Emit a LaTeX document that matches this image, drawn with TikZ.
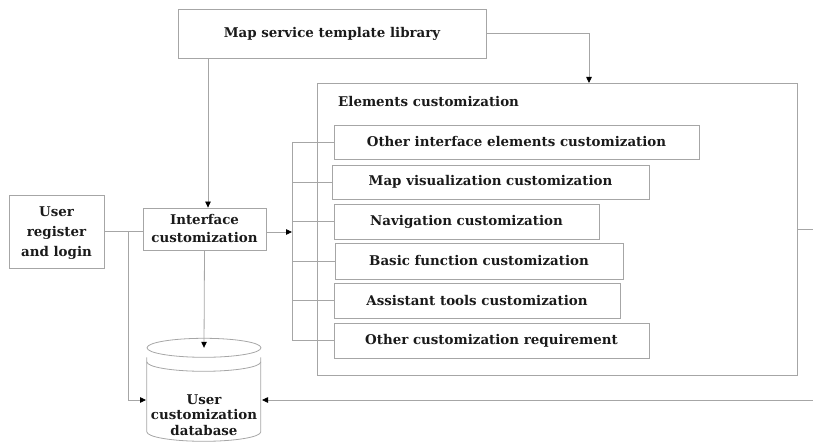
\documentclass[tikz,border=0pt]{standalone}
\usepackage{fontspec}
\setmainfont{DejaVu Serif}
\usetikzlibrary{arrows.meta,calc}
\definecolor{linegray}{HTML}{A6A6A6}
\definecolor{txt}{HTML}{1A1A1A}
\begin{document}
\begin{tikzpicture}[x=1pt,y=-1pt,
  lbl/.style={font=\bfseries\fontsize{13.4}{18}\selectfont, text=txt, align=center},
  box/.style={lbl, draw=linegray, line width=0.8pt, rectangle, inner sep=0pt},
  conn/.style={draw=linegray, line width=0.8pt},
  arr/.style={conn, -{Triangle[length=6pt,width=5.5pt,color=black,fill=black]}},
]
\useasboundingbox (0,0) rectangle (813,443);

% boxes
\node[box, minimum width=308pt, minimum height=49pt] (lib) at (332,33.5) {Map service template library};
\node[box, minimum width=480pt, minimum height=292pt] (elem) at (557,229) {};
\node[lbl, anchor=west, inner sep=0pt] (elabel) at (338,102) {Elements customization};
\node[box, minimum width=123pt, minimum height=42pt, font=\bfseries\fontsize{13.4}{18}\selectfont] (iface) at (204.5,229) {Interface\\customization};
\node[box, minimum width=95pt, minimum height=73pt, font=\bfseries\fontsize{13.4}{20}\selectfont] (user) at (56.5,231.5) {\raisebox{0pt}[12pt][0pt]{}User\\register\\and login};

\node[box, minimum width=365pt, minimum height=34pt] (s1) at (516.5,142) {Other interface elements customization};
\node[box, minimum width=317pt, minimum height=34pt] (s2) at (490.5,182) {Map visualization customization};
\node[box, minimum width=265pt, minimum height=35pt] (s3) at (466.5,221.5) {Navigation customization};
\node[box, minimum width=288pt, minimum height=36pt] (s4) at (479,261) {Basic function customization};
\node[box, minimum width=286pt, minimum height=35pt] (s5) at (477,300.5) {Assistant tools customization};
\node[box, minimum width=315pt, minimum height=35pt] (s6) at (491.5,340.5) {Other customization requirement};

% database cylinder
\node[lbl, font=\bfseries\fontsize{13.4}{15.5}\selectfont, minimum width=114pt, minimum height=134pt, inner sep=0pt] (db) at (204,415) {User\\customization\\database};
\draw[conn] (db.north) ellipse [x radius=57pt, y radius=9.5pt];
\draw[conn] (db.north west) ++(0,9.5) -- ++(0,74.5) arc[start angle=180,end angle=360,x radius=57pt,y radius=9.5pt] -- ++(0,-74.5);
\draw[conn] (db.north west) ++(0,14) arc[start angle=180,end angle=360,x radius=57pt,y radius=9.5pt];

% connectors
\coordinate (tr) at (589,83);
\draw[arr] (lib.east) -| (tr);
\draw[arr] ([xshift=3.5pt]iface.north |- lib.south) -- ([xshift=3.5pt]iface.north);
\draw[conn] (user.east) -- (user.east -| iface.west);
\coordinate (j1) at (128,231.5);
\coordinate (dbl) at (146,400);
\draw[arr] (j1) |- (dbl);
\coordinate (br) at (292,232);
\draw[arr] (iface.east |- br) -- (br);
\draw[conn] (s1.west -| br) -- (s6.west -| br);
\foreach \s in {s1,s2,s3,s4,s5,s6} \draw[conn] (\s.west -| br) -- (\s.west);
\draw[arr] (iface.south) -- (db.north);
\coordinate (far) at (830,229);
\coordinate (dbr) at (262,400);
\draw[arr] (elem.east) -- (far) |- (dbr);
\end{tikzpicture}
\end{document}
